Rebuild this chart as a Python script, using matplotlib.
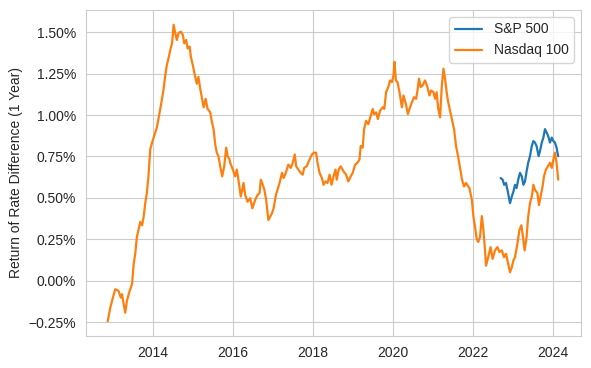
import matplotlib
matplotlib.use('Agg')
import matplotlib.pyplot as plt
import seaborn as sns
from matplotlib.ticker import PercentFormatter

# values (decimal year, return difference in %)
nasdaq_year = [
    2012.86, 2012.925, 2012.99, 2013.05, 2013.13, 2013.19, 2013.22, 2013.26, 2013.30, 2013.34,
    2013.41, 2013.47, 2013.51, 2013.55, 2013.59, 2013.63, 2013.675, 2013.72, 2013.76, 2013.80,
    2013.84, 2013.88, 2013.925, 2013.97, 2014.01, 2014.05, 2014.09, 2014.13, 2014.175, 2014.22,
    2014.26, 2014.30, 2014.34, 2014.38, 2014.425, 2014.47, 2014.51, 2014.55, 2014.59, 2014.63,
    2014.69, 2014.74, 2014.775, 2014.825, 2014.86, 2014.91, 2014.94, 2014.99, 2015.05, 2015.09,
    2015.13, 2015.175, 2015.22, 2015.26, 2015.31, 2015.36, 2015.425, 2015.47, 2015.51, 2015.55,
    2015.59, 2015.63, 2015.675, 2015.725, 2015.775, 2015.825, 2015.86, 2015.91, 2015.925, 2015.99,
    2016.05, 2016.09, 2016.13, 2016.19, 2016.26, 2016.30, 2016.36, 2016.425, 2016.48, 2016.55,
    2016.61, 2016.66, 2016.69, 2016.74, 2016.78, 2016.825, 2016.88, 2016.925, 2016.97, 2017.01,
    2017.07, 2017.11, 2017.16, 2017.22, 2017.26, 2017.30, 2017.34, 2017.38, 2017.44, 2017.49,
    2017.54, 2017.575, 2017.63, 2017.69, 2017.74, 2017.775, 2017.84, 2017.91, 2017.97, 2018.025,
    2018.075, 2018.11, 2018.16, 2018.22, 2018.26, 2018.31, 2018.36, 2018.41, 2018.46, 2018.51,
    2018.56, 2018.59, 2018.64, 2018.69, 2018.76, 2018.825, 2018.88, 2018.94, 2018.99, 2019.05,
    2019.11, 2019.16, 2019.19, 2019.24, 2019.275, 2019.325, 2019.38, 2019.44, 2019.49, 2019.525,
    2019.575, 2019.62, 2019.675, 2019.74, 2019.78, 2019.825, 2019.88, 2019.925, 2019.97, 2020.01,
    2020.035, 2020.07, 2020.11, 2020.16, 2020.22, 2020.26, 2020.32, 2020.37, 2020.425, 2020.47,
    2020.525, 2020.575, 2020.61, 2020.65, 2020.69, 2020.74, 2020.80, 2020.86, 2020.91, 2020.95,
    2021.01, 2021.05, 2021.09, 2021.13, 2021.175, 2021.22, 2021.26, 2021.30, 2021.34, 2021.38,
    2021.425, 2021.48, 2021.525, 2021.575, 2021.625, 2021.675, 2021.725, 2021.775, 2021.825, 2021.91,
    2021.97, 2022.01, 2022.05, 2022.09, 2022.13, 2022.175, 2022.22, 2022.26, 2022.30, 2022.325,
    2022.38, 2022.44, 2022.49, 2022.55, 2022.61, 2022.66, 2022.72, 2022.775, 2022.825, 2022.88,
    2022.925, 2022.97, 2023.01, 2023.05, 2023.11, 2023.16, 2023.21, 2023.26, 2023.29, 2023.34,
    2023.38, 2023.425, 2023.47, 2023.51, 2023.55, 2023.61, 2023.65, 2023.69, 2023.74, 2023.775,
    2023.825, 2023.875, 2023.925, 2023.97, 2024.01, 2024.05, 2024.09, 2024.13,
]
nasdaq_ret = [
    -0.244, -0.163, -0.102, -0.051, -0.061, -0.102, -0.081, -0.142, -0.193, -0.122,
    -0.061, -0.020, 0.102, 0.163, 0.264, 0.305, 0.355, 0.335, 0.386, 0.468,
    0.529, 0.630, 0.793, 0.834, 0.864, 0.895, 0.925, 0.976, 1.037, 1.098,
    1.159, 1.240, 1.301, 1.341, 1.392, 1.433, 1.545, 1.494, 1.453, 1.494,
    1.504, 1.484, 1.433, 1.453, 1.402, 1.413, 1.352, 1.301, 1.230, 1.189,
    1.230, 1.159, 1.098, 1.047, 1.098, 1.037, 1.016, 0.955, 0.915, 0.823,
    0.773, 0.752, 0.691, 0.630, 0.691, 0.803, 0.752, 0.732, 0.712, 0.671,
    0.630, 0.671, 0.610, 0.508, 0.590, 0.518, 0.477, 0.498, 0.437, 0.488,
    0.518, 0.529, 0.610, 0.579, 0.549, 0.488, 0.366, 0.386, 0.407, 0.437,
    0.518, 0.549, 0.590, 0.651, 0.620, 0.640, 0.671, 0.701, 0.681, 0.712,
    0.762, 0.691, 0.671, 0.651, 0.640, 0.681, 0.691, 0.732, 0.762, 0.773,
    0.773, 0.712, 0.651, 0.620, 0.579, 0.599, 0.590, 0.640, 0.579, 0.630,
    0.671, 0.610, 0.671, 0.691, 0.660, 0.640, 0.599, 0.630, 0.651, 0.701,
    0.712, 0.732, 0.813, 0.803, 0.915, 0.965, 0.945, 0.996, 1.037, 1.006,
    1.016, 0.976, 1.026, 1.047, 1.037, 1.138, 1.169, 1.209, 1.199, 1.240,
    1.321, 1.209, 1.199, 1.138, 1.047, 1.118, 1.067, 1.006, 1.047, 1.077,
    1.108, 1.098, 1.148, 1.220, 1.169, 1.179, 1.209, 1.169, 1.118, 1.148,
    1.138, 1.098, 1.138, 1.037, 0.986, 1.179, 1.280, 1.220, 1.138, 1.077,
    1.026, 0.965, 0.915, 0.813, 0.752, 0.681, 0.610, 0.569, 0.590, 0.559,
    0.488, 0.386, 0.325, 0.254, 0.234, 0.264, 0.390, 0.305, 0.183, 0.091,
    0.142, 0.203, 0.132, 0.183, 0.203, 0.173, 0.183, 0.142, 0.163, 0.102,
    0.051, 0.081, 0.122, 0.142, 0.224, 0.305, 0.335, 0.244, 0.183, 0.264,
    0.386, 0.468, 0.508, 0.579, 0.549, 0.529, 0.457, 0.508, 0.569, 0.630,
    0.671, 0.691, 0.712, 0.681, 0.732, 0.773, 0.712, 0.610,
]

sp500_year = [
    2022.69, 2022.74, 2022.78, 2022.825, 2022.87, 2022.925, 2022.97, 2023.01, 2023.05, 2023.09,
    2023.13, 2023.175, 2023.22, 2023.26, 2023.30, 2023.34, 2023.38, 2023.425, 2023.47, 2023.51,
    2023.55, 2023.59, 2023.64, 2023.675, 2023.72, 2023.76, 2023.80, 2023.84, 2023.88, 2023.925,
    2023.97, 2024.01, 2024.05, 2024.09, 2024.13,
]
sp500_ret = [
    0.620, 0.610, 0.579, 0.590, 0.538, 0.468, 0.508, 0.538, 0.579, 0.559,
    0.610, 0.651, 0.630, 0.579, 0.599, 0.660, 0.712, 0.752, 0.813, 0.843,
    0.834, 0.813, 0.752, 0.782, 0.834, 0.864, 0.915, 0.895, 0.874, 0.834,
    0.864, 0.843, 0.834, 0.803, 0.752,
]

year_ticks = [2014, 2016, 2018, 2020, 2022, 2024]

sns.set_style("whitegrid")
plt.rcParams['font.family'] = ['Liberation Sans', 'DejaVu Sans']

fig, ax = plt.subplots(figsize=(5.91, 3.68), dpi=100)
fig.subplots_adjust(left=0.145, right=0.983, top=0.973, bottom=0.087)

ax.plot(sp500_year, sp500_ret, color="tab:blue", linewidth=1.6, label="S&P 500")
ax.plot(nasdaq_year, nasdaq_ret, color="tab:orange", linewidth=1.6, label="Nasdaq 100")

ax.set_xlim(2012.31, 2024.70)
ax.set_xticks(year_ticks)
ax.set_xticklabels([str(y) for y in year_ticks])
ax.yaxis.set_major_formatter(PercentFormatter(xmax=100, decimals=2))
ax.set_ylabel("Return of Rate Difference (1 Year)")
ax.legend(loc="upper right")

plt.savefig("out.png", dpi=100)
